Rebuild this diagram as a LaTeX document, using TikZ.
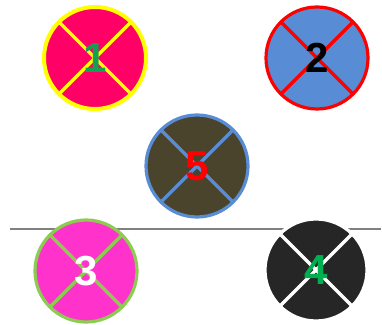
\documentclass[tikz,border=0pt]{standalone}
\usepackage{fontspec}
\setmainfont{Liberation Sans}
\begin{document}
\begin{tikzpicture}[x=1pt,y=1pt,
  disc/.style={circle, minimum size=102pt, inner sep=0pt, outer sep=0pt,
    font=\fontsize{42}{42}\selectfont\bfseries},
  cross/.style={line width=3.2pt}]
\definecolor{pinkA}{RGB}{255,0,102}
\definecolor{yellowA}{RGB}{255,255,0}
\definecolor{greenT}{RGB}{20,160,80}
\definecolor{blueA}{RGB}{88,140,212}
\definecolor{oliveA}{RGB}{75,68,45}
\definecolor{magA}{RGB}{255,51,204}
\definecolor{greenB}{RGB}{140,204,80}
\definecolor{darkA}{RGB}{38,38,38}
\definecolor{greenC}{RGB}{0,176,80}
\definecolor{lineG}{RGB}{128,128,128}
\useasboundingbox (0,0) rectangle (382,324);
\coordinate (la) at (10,95);
\coordinate (lb) at (381,95);
\draw[lineG, line width=2.2pt] (la) -- (lb);
% 1
\node[disc, fill=pinkA, draw=yellowA, line width=4pt, text=greenT] (n1) at (95,266) {};
\draw[cross, yellowA] (n1.45) -- (n1.225) (n1.135) -- (n1.315);
\node[font=\fontsize{42}{42}\selectfont\bfseries, text=greenT] (t1) at (n1.center) {1};
% 2
\node[disc, fill=blueA, draw=red, line width=3.2pt] (n2) at (317,266) {};
\draw[cross, red] (n2.45) -- (n2.225) (n2.135) -- (n2.315);
\node[font=\fontsize{42}{42}\selectfont\bfseries, text=black] (t2) at (n2.center) {2};
% 5
\node[disc, fill=oliveA, draw=blueA, line width=3.2pt] (n5) at (197,158) {};
\draw[cross, blueA] (n5.45) -- (n5.225) (n5.135) -- (n5.315);
\node[font=\fontsize{42}{42}\selectfont\bfseries, text=red] (t5) at (n5.center) {5};
% 3
\node[disc, fill=magA, draw=greenB, line width=3.2pt] (n3) at (86,53) {};
\draw[cross, greenB] (n3.45) -- (n3.225) (n3.135) -- (n3.315);
\node[font=\fontsize{42}{42}\selectfont\bfseries, text=white] (t3) at (n3.center) {3};
% 4
\node[disc, fill=darkA, draw=white, line width=3.2pt] (n4) at (316,54) {};
\draw[cross, white] (n4.45) -- (n4.225) (n4.135) -- (n4.315);
\node[font=\fontsize{42}{42}\selectfont\bfseries, text=greenC] (t4) at (n4.center) {4};
\end{tikzpicture}
\end{document}
